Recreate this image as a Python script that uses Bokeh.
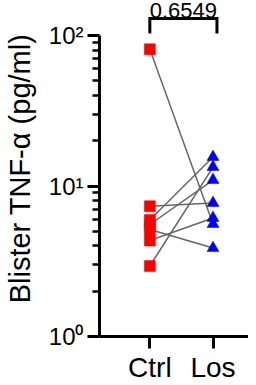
from bokeh.plotting import figure
from bokeh.models import Range1d, FixedTicker
from bokeh.embed import file_html
from bokeh.resources import INLINE
from bokeh.core.properties import value

# ---- data ----
groups = ["Ctrl", "Los"]
ctrl = [81.1, 7.34, 5.94, 5.55, 5.14, 4.34, 2.94]
los = [5.59, 7.71, 15.58, 10.96, 3.87, 6.13, 13.37]
y_ticks = [1, 10, 100]
y_tick_labels = ["10⁰", "10¹", "10²"]
p_value = "0.6549"
y_label = "Blister TNF-α (pg/ml)"

FONT = "Liberation Sans"
pos = {g: i + 1 for i, g in enumerate(groups)}
xc, xl = pos["Ctrl"], pos["Los"]

p = figure(width=248, height=385, output_backend="svg", toolbar_location=None,
           title=None, y_axis_type="log",
           x_range=Range1d(0.203, 2.562), y_range=Range1d(1, 170.9),
           min_border_left=97, min_border_right=0, min_border_top=0,
           min_border_bottom=49)
p.styles = {"margin-top": "0px", "margin-bottom": "-8px"}
p.outline_line_color = None
p.xgrid.visible = False
p.ygrid.visible = False
p.background_fill_color = "white"
p.border_fill_color = "white"

# y axis
yax = p.yaxis[0]
minor = [m * t for t in y_ticks[:-1] for m in range(2, 10)]
yax.ticker = FixedTicker(ticks=y_ticks, minor_ticks=minor)
yax.major_label_overrides = {t: l for t, l in zip(y_ticks, y_tick_labels)}
yax.bounds = (y_ticks[0], y_ticks[-1])
yax.axis_line_width = 3
yax.major_tick_line_width = 3
yax.minor_tick_line_width = 2.5
yax.major_tick_out = 12
yax.major_tick_in = 0
yax.minor_tick_out = 7
yax.minor_tick_in = 0
yax.major_label_text_font = FONT
yax.major_label_text_font_size = "24px"
yax.major_label_text_color = "black"
yax.major_label_standoff = 4
yax.axis_label = y_label
yax.axis_label_text_font = FONT
yax.axis_label_text_font_size = "29px"
yax.axis_label_text_font_style = "normal"
yax.axis_label_text_color = "black"
yax.axis_label_standoff = 10

# x axis
xax = p.xaxis[0]
xax.axis_label = None
xax.ticker = FixedTicker(ticks=[xc, xl], minor_ticks=[])
xax.major_label_overrides = {pos[g]: g for g in groups}
xax.axis_line_width = 3
xax.major_tick_line_width = 3
xax.major_tick_out = 12
xax.major_tick_in = 0
xax.minor_tick_out = 0
xax.minor_tick_in = 0
xax.major_label_text_font = FONT
xax.major_label_text_font_size = "28px"
xax.major_label_text_color = "black"
xax.major_label_standoff = 3

# paired lines
p.segment(x0=[xc] * len(ctrl), y0=ctrl, x1=[xl] * len(los), y1=los,
          line_color="#666666", line_width=1.5)

# markers
p.scatter(x=[xc] * len(ctrl), y=ctrl, marker="square", size=11,
          fill_color="#ff0000", line_color="#ff0000", line_width=0.5)
p.scatter(x=[xl] * len(los), y=los, marker="triangle", size=12,
          fill_color="#0000ff", line_color="#0000ff", line_width=0.5)

# significance bracket
bx0 = xc
bx1 = xl + 0.0625
by_low = y_ticks[-1] * 1.031
by_high = y_ticks[-1] * 1.297
p.line(x=[bx0, bx0, bx1, bx1], y=[by_low, by_high, by_high, by_low],
       line_color="black", line_width=3, line_join="miter")
p.text(x=[(bx0 + bx1) / 2], y=[y_ticks[-1] * 1.466], text=[p_value],
       text_align="center", text_baseline="alphabetic",
       text_font=value(FONT), text_font_size="22px", text_color="black")

open("out.html", "w").write(file_html(p, INLINE))
